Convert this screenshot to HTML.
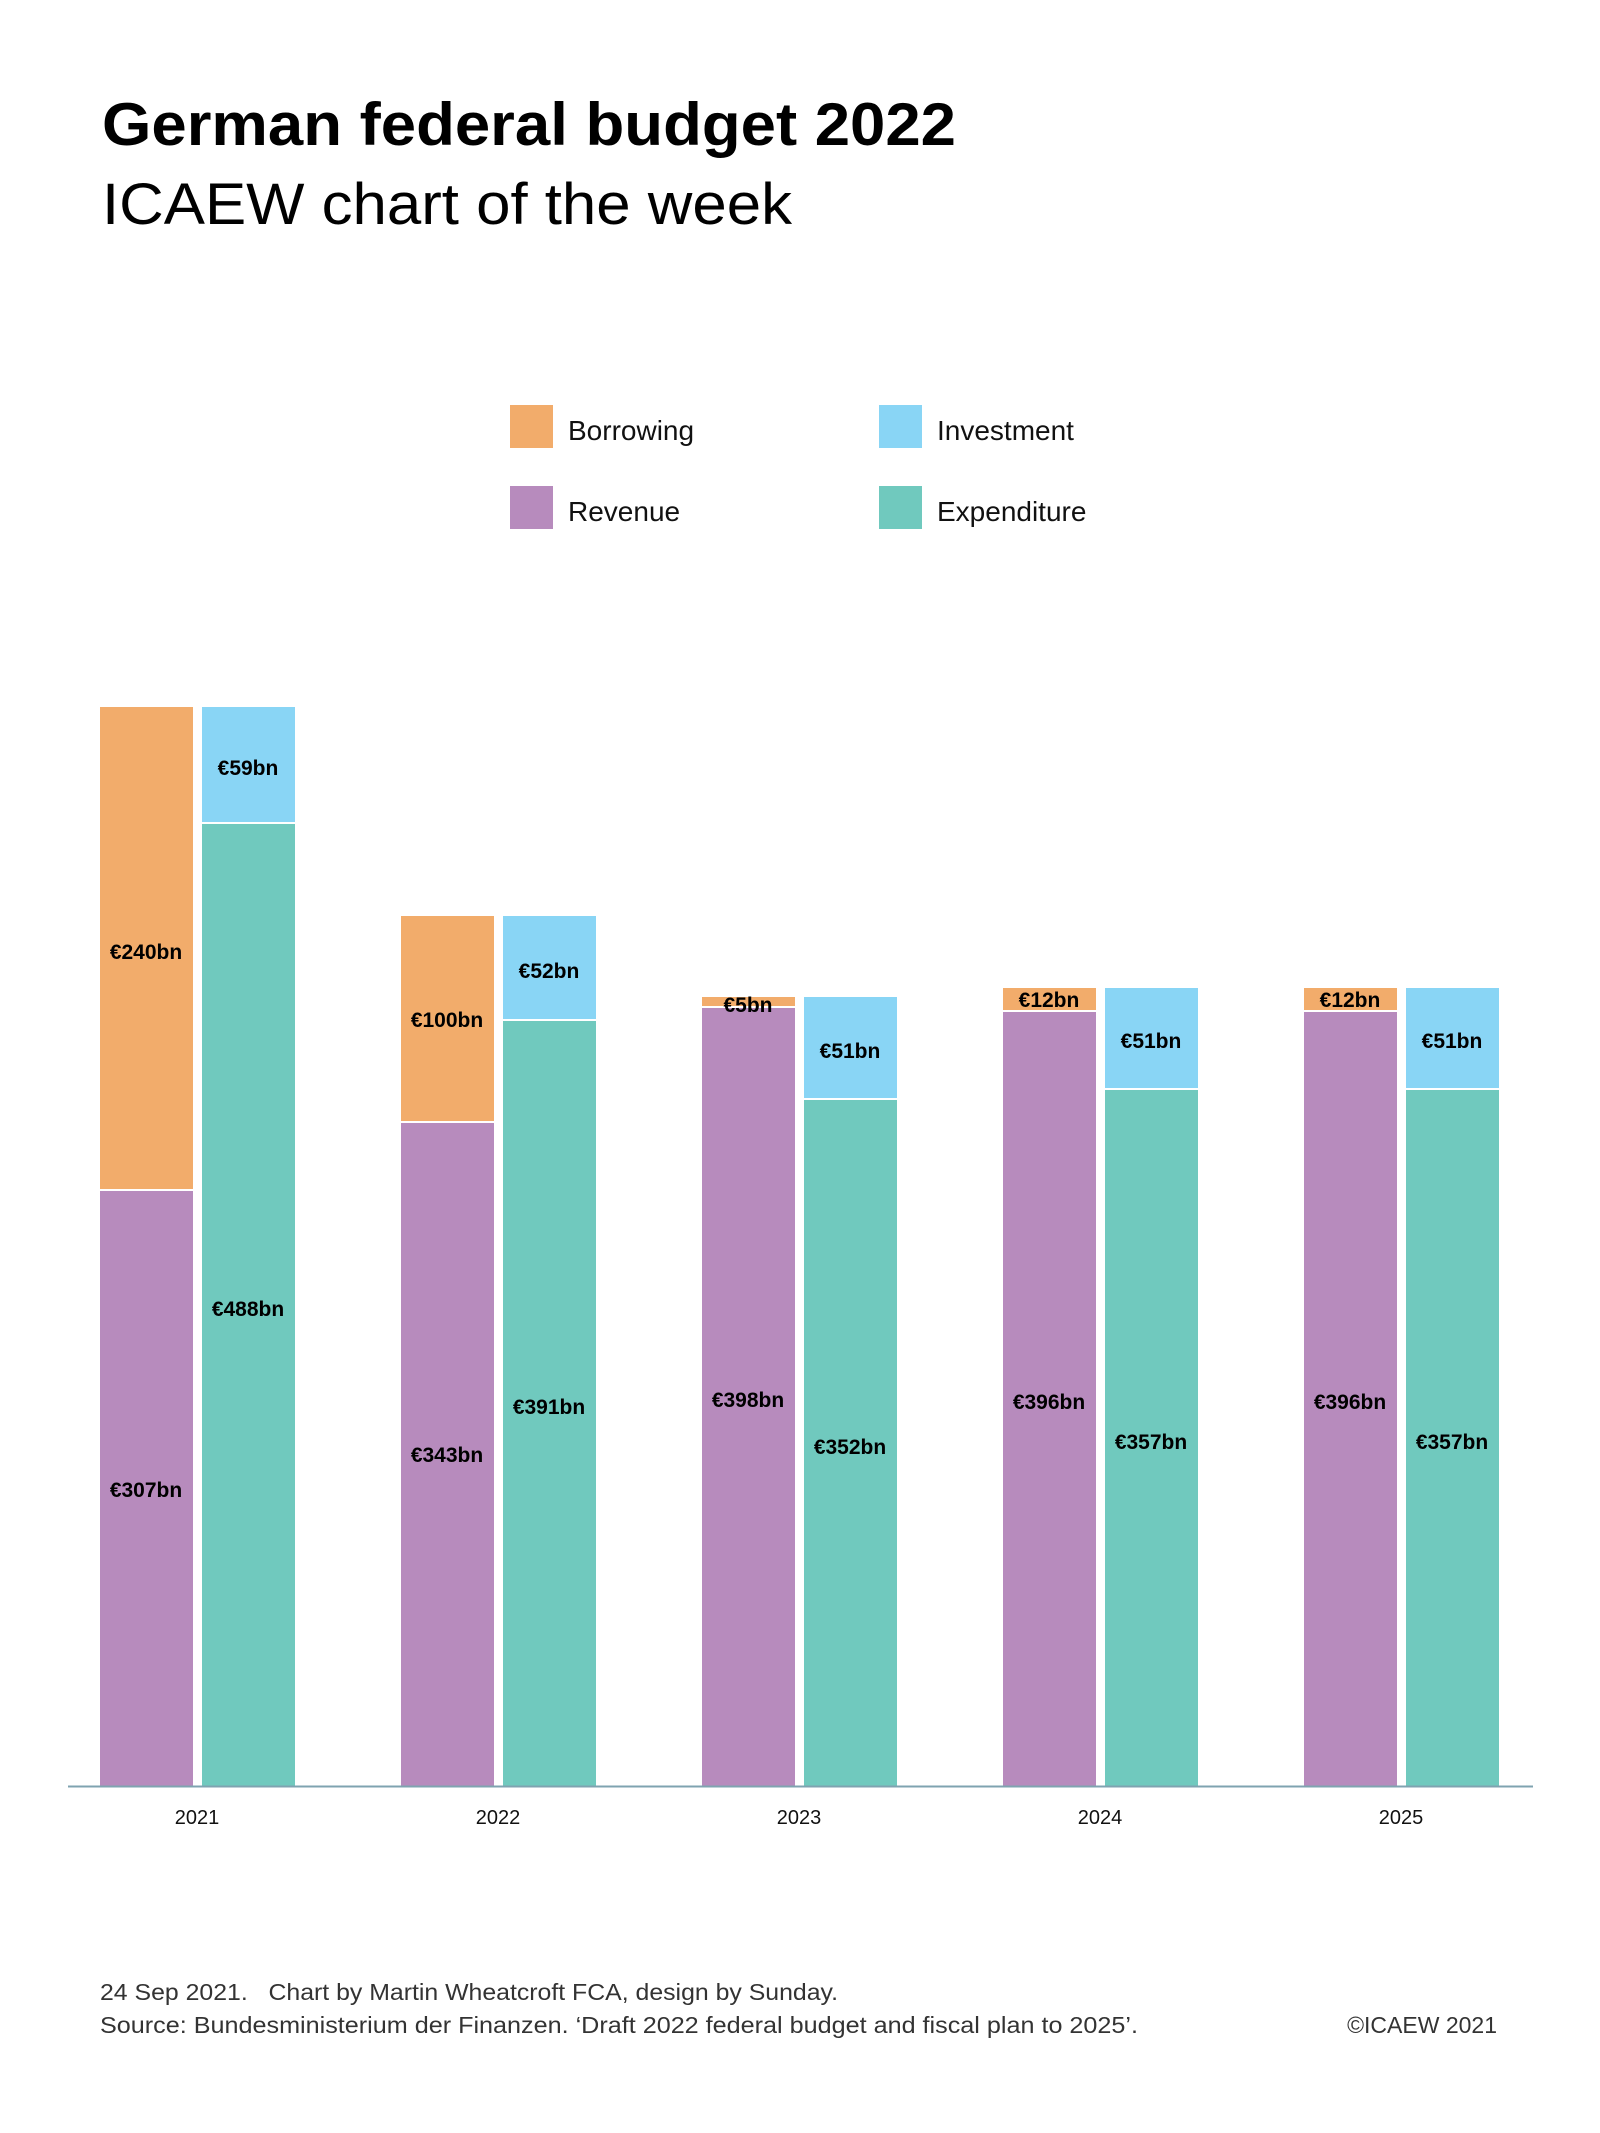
<!DOCTYPE html>
<html><head><meta charset="utf-8"><style>
html,body{margin:0;padding:0;background:#fff;}
svg{display:block;font-family:"Liberation Sans",sans-serif;}
</style></head><body>
<svg width="1600" height="2133" viewBox="0 0 1600 2133" xmlns="http://www.w3.org/2000/svg">
<text x="102" y="145" font-size="60" font-weight="bold" fill="#000" textLength="854" lengthAdjust="spacingAndGlyphs">German federal budget 2022</text>
<text x="102" y="224" font-size="58" fill="#000" textLength="690" lengthAdjust="spacingAndGlyphs">ICAEW chart of the week</text>
<rect x="510" y="405" width="43" height="43" fill="#f2ac6b"/>
<text x="568" y="440" font-size="28" fill="#111">Borrowing</text>
<rect x="879" y="405" width="43" height="43" fill="#89d5f5"/>
<text x="937" y="440" font-size="28" fill="#111">Investment</text>
<rect x="510" y="486" width="43" height="43" fill="#b78bbd"/>
<text x="568" y="521" font-size="28" fill="#111">Revenue</text>
<rect x="879" y="486" width="43" height="43" fill="#70c9be"/>
<text x="937" y="521" font-size="28" fill="#111">Expenditure</text>
<g font-size="21" font-weight="bold" fill="#000" text-anchor="middle">
<!-- 2021 -->
<rect x="100" y="1191" width="93" height="595" fill="#b78bbd"/>
<rect x="100" y="707" width="93" height="482" fill="#f2ac6b"/>
<rect x="202" y="824" width="93" height="962" fill="#70c9be"/>
<rect x="202" y="707" width="93" height="115" fill="#89d5f5"/>
<text x="146" y="1497">€307bn</text><text x="146" y="959">€240bn</text>
<text x="248" y="1316">€488bn</text><text x="248" y="775">€59bn</text>
<!-- 2022 -->
<rect x="401" y="1123" width="93" height="663" fill="#b78bbd"/>
<rect x="401" y="916" width="93" height="205" fill="#f2ac6b"/>
<rect x="503" y="1021" width="93" height="765" fill="#70c9be"/>
<rect x="503" y="916" width="93" height="103" fill="#89d5f5"/>
<text x="447" y="1462">€343bn</text><text x="447" y="1027">€100bn</text>
<text x="549" y="1414">€391bn</text><text x="549" y="978">€52bn</text>
<!-- 2023 -->
<rect x="702" y="1008" width="93" height="778" fill="#b78bbd"/>
<rect x="702" y="997" width="93" height="9" fill="#f2ac6b"/>
<rect x="804" y="1100" width="93" height="686" fill="#70c9be"/>
<rect x="804" y="997" width="93" height="101" fill="#89d5f5"/>
<text x="748" y="1407">€398bn</text><text x="748" y="1012">€5bn</text>
<text x="850" y="1454">€352bn</text><text x="850" y="1058">€51bn</text>
<!-- 2024 -->
<rect x="1003" y="1012" width="93" height="774" fill="#b78bbd"/>
<rect x="1003" y="988" width="93" height="22" fill="#f2ac6b"/>
<rect x="1105" y="1090" width="93" height="696" fill="#70c9be"/>
<rect x="1105" y="988" width="93" height="100" fill="#89d5f5"/>
<text x="1049" y="1409">€396bn</text><text x="1049" y="1007">€12bn</text>
<text x="1151" y="1449">€357bn</text><text x="1151" y="1048">€51bn</text>
<!-- 2025 -->
<rect x="1304" y="1012" width="93" height="774" fill="#b78bbd"/>
<rect x="1304" y="988" width="93" height="22" fill="#f2ac6b"/>
<rect x="1406" y="1090" width="93" height="696" fill="#70c9be"/>
<rect x="1406" y="988" width="93" height="100" fill="#89d5f5"/>
<text x="1350" y="1409">€396bn</text><text x="1350" y="1007">€12bn</text>
<text x="1452" y="1449">€357bn</text><text x="1452" y="1048">€51bn</text>
</g>
<line x1="68" y1="1786.5" x2="1533" y2="1786.5" stroke="#7fa3b0" stroke-width="2"/>
<g font-size="20" fill="#111" text-anchor="middle">
<text x="197" y="1824">2021</text><text x="498" y="1824">2022</text>
<text x="799" y="1824">2023</text><text x="1100" y="1824">2024</text>
<text x="1401" y="1824">2025</text>
</g>
<g font-size="23" fill="#333">
<text x="100" y="2000" textLength="738" lengthAdjust="spacingAndGlyphs" xml:space="preserve">24 Sep 2021.   Chart by Martin Wheatcroft FCA, design by Sunday.</text>
<text x="100" y="2033" textLength="1038" lengthAdjust="spacingAndGlyphs">Source: Bundesministerium der Finanzen. ‘Draft 2022 federal budget and fiscal plan to 2025’.</text>
<text x="1497" y="2033" text-anchor="end">©ICAEW 2021</text>
</g>
</svg>
</body></html>
